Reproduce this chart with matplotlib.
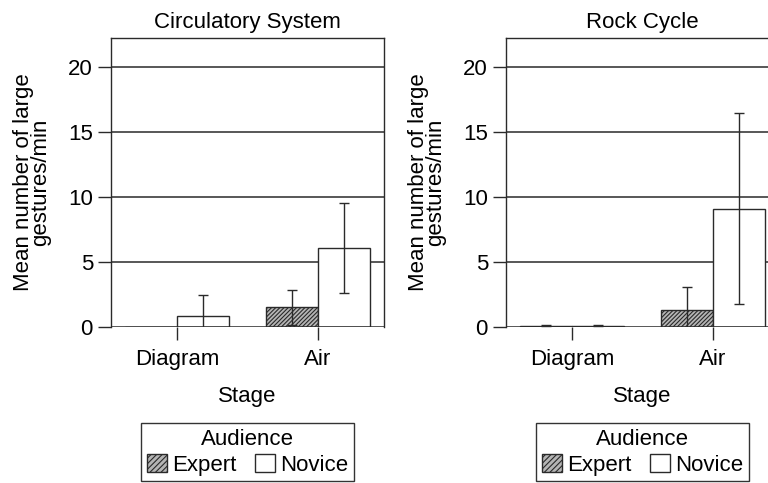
import numpy as np
import matplotlib
matplotlib.use("Agg")
import matplotlib.pyplot as plt
from matplotlib.patches import Patch

plt.rcParams["font.family"] = ["Liberation Sans", "DejaVu Sans"]
plt.rcParams["hatch.color"] = "#3a3a3a"
plt.rcParams["hatch.linewidth"] = 0.8

# data
STAGES = ["Diagram", "Air"]
GROUPS = ["Expert", "Novice"]
PANELS = ["Circulatory System", "Rock Cycle"]

circ_expert = [0.0, 1.5]
circ_expert_err = [0.0, 1.35]
circ_novice = [0.85, 6.1]
circ_novice_err = [1.6, 3.45]

rock_expert = [0.05, 1.3]
rock_expert_err = [0.12, 1.75]
rock_novice = [0.05, 9.1]
rock_novice_err = [0.12, 7.35]

MEANS = [(circ_expert, circ_novice), (rock_expert, rock_novice)]
ERRS = [(circ_expert_err, circ_novice_err), (rock_expert_err, rock_novice_err)]

EDGE = "#2a2a2a"
W = 0.37
FS = 16

fig = plt.figure(figsize=(7.68, 4.83), dpi=100)
lefts = [111 / 768, 506 / 768]
for i, name in enumerate(PANELS):
    ax = fig.add_axes([lefts[i], 156 / 483, 273 / 768, 289 / 483])
    x = np.arange(len(STAGES))
    ex, nov = MEANS[i]
    exe, nove = ERRS[i]
    ax.bar(x - W / 2, ex, W, facecolor="#b5b5b5", edgecolor=EDGE,
           hatch="////////", lw=1.0, zorder=3)
    ax.bar(x + W / 2, nov, W, facecolor="white", edgecolor=EDGE, lw=1.0, zorder=3)
    for xs, m, e in [(x - W / 2, ex, exe), (x + W / 2, nov, nove)]:
        keep = np.array(e) > 0
        ax.errorbar(xs[keep], np.array(m)[keep], yerr=np.array(e)[keep],
                    fmt="none", ecolor=EDGE, elinewidth=1.0, capsize=3.5,
                    capthick=1.0, zorder=4, clip_on=True)
    for yv in (5, 10, 15, 20):
        ax.axhline(yv, color=EDGE, lw=1.1, zorder=1)
    ax.axhline(0, color=EDGE, lw=1.1, zorder=5)
    ax.set_xlim(-0.468, 1.468)
    ax.set_ylim(0, 22.2)
    ax.set_yticks([0, 5, 10, 15, 20])
    ax.set_xticks(x)
    ax.set_xticklabels(STAGES)
    ax.tick_params(direction="out", length=9.5, width=1.0, color=EDGE,
                   labelsize=FS, pad=3.5)
    ax.tick_params(axis="x", pad=6)
    for sp in ax.spines.values():
        sp.set_color(EDGE)
        sp.set_linewidth(1.0)
    ax.spines["bottom"].set_visible(False)
    ax.set_title(name, fontsize=FS, pad=7)
    ax.set_xlabel("Stage", fontsize=FS, labelpad=12)
    ax.set_ylabel("Mean number of large\ngestures/min", fontsize=FS,
                  linespacing=0.8, labelpad=12)
    handles = [Patch(facecolor="#b5b5b5", edgecolor=EDGE, hatch="//////",
                     label="Expert"),
               Patch(facecolor="white", edgecolor=EDGE, label="Novice")]
    leg = ax.legend(handles=handles, title="Audience", ncol=2,
                    loc="upper center", bbox_to_anchor=(0.5, -0.332),
                    frameon=True, fancybox=False, edgecolor="black",
                    borderaxespad=0, fontsize=FS, title_fontsize=FS,
                    handlelength=0.9, handleheight=0.9, handletextpad=0.25,
                    columnspacing=0.8, borderpad=0.25, labelspacing=0.2)
    leg.get_frame().set_linewidth(1.0)

fig.savefig("out.png", dpi=100)
